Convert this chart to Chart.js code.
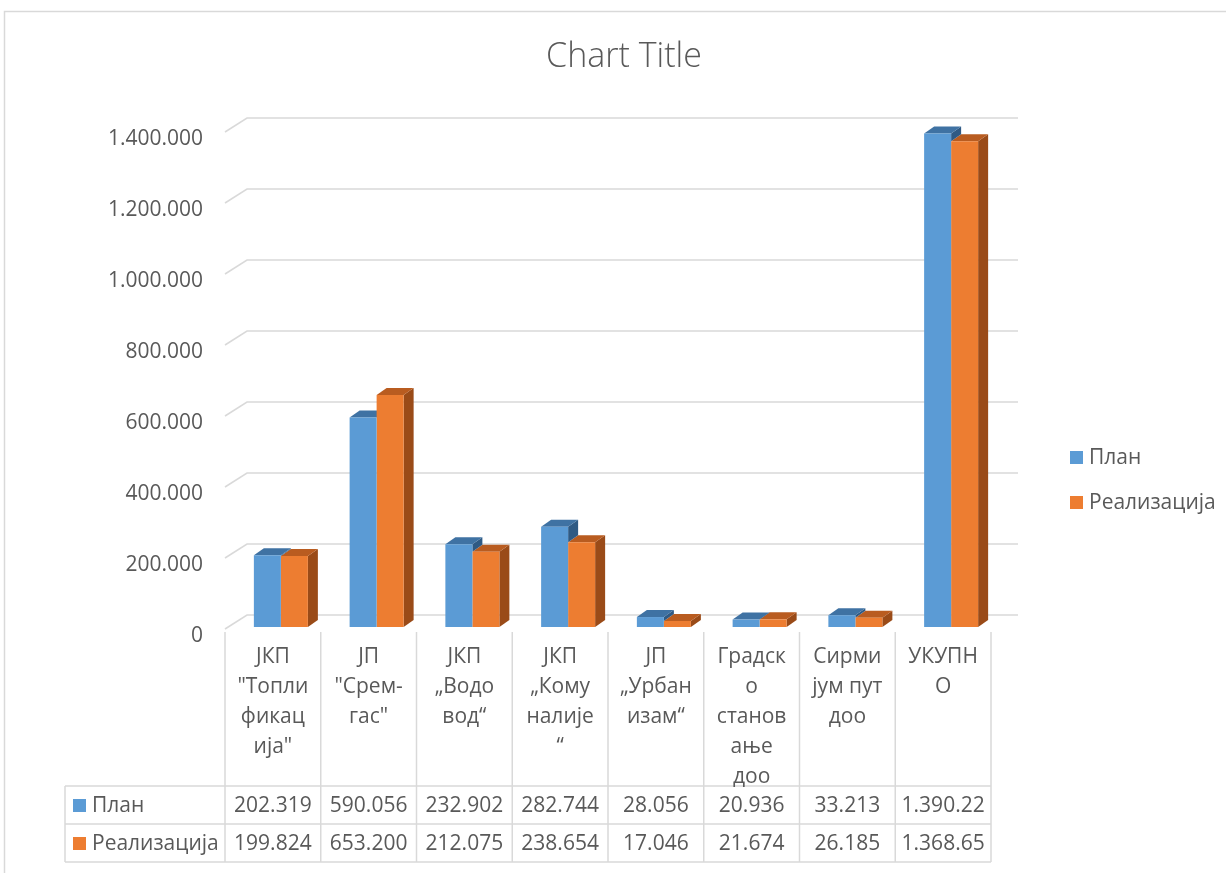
<!DOCTYPE html>
<html>
<head>
<meta charset="utf-8">
<script src="https://cdn.jsdelivr.net/npm/chart.js@4.4.1/dist/chart.umd.min.js"></script>
<style>
  html, body { margin: 0; padding: 0; background: #ffffff; }
  #wrap { width: 1226px; height: 873px; position: relative; }
</style>
</head>
<body>
<div id="wrap"><canvas id="c" width="1226" height="873"></canvas></div>
<script>
// ---------- data ----------
const categories = [
  ['ЈКП', '"Топли', 'фикац', 'ија"'],
  ['ЈП', '"Срем-', 'гас"'],
  ['ЈКП', '„Водо', 'вод“'],
  ['ЈКП', '„Кому', 'налије', '“'],
  ['ЈП', '„Урбан', 'изам“'],
  ['Градск', 'о', 'станов', 'ање', 'доо'],
  ['Сирми', 'јум пут', 'доо'],
  ['УКУПН', 'О']
];
const seriesNames = ['План', 'Реализација'];
const planValues = [202319, 590056, 232902, 282744, 28056, 20936, 33213, 1390226];
const realValues = [199824, 653200, 212075, 238654, 17046, 21674, 26185, 1368658];
const yTicks = [0, 200000, 400000, 600000, 800000, 1000000, 1200000, 1400000];
const chartTitle = 'Chart Title';

// ---------- styling ----------
const FONT = '"Open Sans", "Noto Sans", sans-serif';
const TXT = '#595959';
const LINE = '#d9d9d9';
const colors = {
  front: ['#5b9bd5', '#ed7d31'],
  top: ['#3f72a3', '#b95c20'],
  side: ['#2f5a84', '#9a4b18']
};
const DEPTH_X = 10, DEPTH_Y = -7, BAR_SHIFT = 8;
const WALL_X = 22, WALL_Y = -14;

function fmt(v) {
  return String(v).replace(/\B(?=(\d{3})+(?!\d))/g, '.');
}

function poly(ctx, pts, color) {
  ctx.beginPath();
  ctx.moveTo(pts[0][0], pts[0][1]);
  for (let k = 1; k < pts.length; k++) ctx.lineTo(pts[k][0], pts[k][1]);
  ctx.closePath();
  ctx.fillStyle = color;
  ctx.fill();
}

const excel3d = {
  id: 'excel3d',
  beforeDraw(chart) {
    const ctx = chart.ctx;
    ctx.save();
    ctx.fillStyle = '#ffffff';
    ctx.fillRect(0, 0, chart.width, chart.height);
    ctx.strokeStyle = LINE;
    ctx.lineWidth = 1.5;
    ctx.strokeRect(4.5, 11.5, 1400, 1000);
    ctx.fillStyle = TXT;
    ctx.font = '300 34px ' + FONT;
    ctx.textAlign = 'center';
    ctx.textBaseline = 'middle';
    ctx.fillText(chartTitle, 624, 57);
    ctx.restore();
  },
  beforeDatasetsDraw(chart) {
    const ctx = chart.ctx;
    const ys = chart.scales.y;
    const area = chart.chartArea;
    ctx.save();
    ctx.strokeStyle = LINE;
    ctx.lineWidth = 1.5;
    ys.ticks.forEach(t => {
      const y = ys.getPixelForValue(t.value);
      ctx.beginPath();
      ctx.moveTo(area.left, y + 2);
      ctx.lineTo(area.left + WALL_X, y + WALL_Y + 2);
      ctx.lineTo(area.right + 27, y + WALL_Y + 2);
      ctx.stroke();
    });
    ctx.restore();

    ctx.save();
    ctx.translate(BAR_SHIFT, 0);
    const m0 = chart.getDatasetMeta(0).data;
    const m1 = chart.getDatasetMeta(1).data;
    for (let i = 0; i < m0.length; i++) {
      const b = m0[i], o = m1[i];
      const bl = b.x - b.width / 2, br = b.x + b.width / 2;
      const ol = o.x - o.width / 2, or = o.x + o.width / 2;
      poly(ctx, [[or, o.y], [or + DEPTH_X, o.y + DEPTH_Y], [or + DEPTH_X, o.base + DEPTH_Y], [or, o.base]], colors.side[1]);
      poly(ctx, [[ol, o.y], [ol + DEPTH_X, o.y + DEPTH_Y], [or + DEPTH_X, o.y + DEPTH_Y], [or, o.y]], colors.top[1]);
      if (b.y < o.y) {
        poly(ctx, [[br, b.y], [br + DEPTH_X, b.y + DEPTH_Y], [br + DEPTH_X, o.y + DEPTH_Y], [br, o.y]], colors.side[0]);
      }
      poly(ctx, [[bl, b.y], [bl + DEPTH_X, b.y + DEPTH_Y], [br + DEPTH_X, b.y + DEPTH_Y], [br, b.y]], colors.top[0]);
    }
  },
  afterDatasetsDraw(chart) {
    chart.ctx.restore();
  },
  afterDraw(chart) {
    const ctx = chart.ctx;
    const xs = chart.scales.x;
    const area = chart.chartArea;
    const n = categories.length;
    const colW = area.width / n;
    const tableLeft = 65;
    const headTop = 632, row1 = 786, row2 = 824, row3 = 862;
    ctx.save();
    ctx.strokeStyle = LINE;
    ctx.lineWidth = 1.5;
    for (let i = 0; i <= n; i++) {
      const x = area.left + i * colW;
      ctx.beginPath();
      ctx.moveTo(x, headTop);
      ctx.lineTo(x, row3);
      ctx.stroke();
    }
    ctx.beginPath();
    ctx.moveTo(tableLeft, row1); ctx.lineTo(tableLeft, row3);
    [row1, row2, row3].forEach(y => { ctx.moveTo(tableLeft, y); ctx.lineTo(area.right, y); });
    ctx.stroke();

    ctx.fillStyle = TXT;
    ctx.font = '21px ' + FONT;
    ctx.textAlign = 'center';
    ctx.textBaseline = 'middle';
    categories.forEach((lines, i) => {
      const cx = xs.getPixelForValue(i);
      lines.forEach((ln, k) => ctx.fillText(ln, cx, 657 + k * 30));
    });

    const rows = [planValues, realValues];
    const rowMid = [(row1 + row2) / 2 + 1, (row2 + row3) / 2 + 1];
    rows.forEach((vals, r) => {
      vals.forEach((v, i) => {
        let s = fmt(v);
        while (ctx.measureText(s).width > colW - 8 && s.length > 1) s = s.slice(0, -1);
        ctx.textAlign = 'center';
        ctx.fillText(s, xs.getPixelForValue(i), rowMid[r]);
      });
      ctx.fillStyle = colors.front[r];
      ctx.fillRect(73, rowMid[r] - 7, 13, 13);
      ctx.fillStyle = TXT;
      ctx.textAlign = 'left';
      ctx.fillText(seriesNames[r], 92, rowMid[r]);
    });

    const legY = [458, 503];
    seriesNames.forEach((name, r) => {
      ctx.fillStyle = colors.front[r];
      ctx.fillRect(1070, legY[r] - 7, 13, 13);
      ctx.fillStyle = TXT;
      ctx.textAlign = 'left';
      ctx.fillText(name, 1089, legY[r]);
    });
    ctx.restore();
  }
};

new Chart(document.getElementById('c'), {
  type: 'bar',
  data: {
    labels: categories,
    datasets: [
      { label: seriesNames[0], data: planValues, backgroundColor: colors.front[0], borderWidth: 0 },
      { label: seriesNames[1], data: realValues, backgroundColor: colors.front[1], borderWidth: 0 }
    ]
  },
  options: {
    responsive: false,
    animation: false,
    devicePixelRatio: 1,
    layout: { padding: { top: 130, right: 235, bottom: 246, left: 0 } },
    datasets: { bar: { categoryPercentage: 0.564, barPercentage: 1.0 } },
    plugins: {
      legend: { display: false },
      tooltip: { enabled: false },
      title: { display: false }
    },
    scales: {
      x: { display: false },
      y: {
        min: 0,
        max: 1400000,
        afterBuildTicks(scale) { scale.ticks = yTicks.map(v => ({ value: v })); },
        afterFit(scale) { scale.width = 225; },
        grid: { display: false },
        border: { display: false },
        ticks: {
          padding: 14,
          labelOffset: 9,
          color: TXT,
          font: { family: FONT, size: 21 },
          callback: v => fmt(v)
        }
      }
    }
  },
  plugins: [excel3d]
});
</script>
</body>
</html>
